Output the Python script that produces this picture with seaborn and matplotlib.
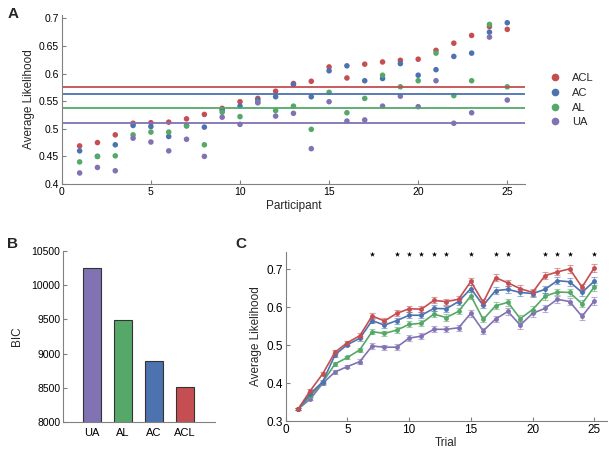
import numpy as np
import pandas as pd
import matplotlib
matplotlib.use("Agg")
import matplotlib.pyplot as plt
import seaborn as sns

# ---- data ----
models = ["ACL", "AC", "AL", "UA"]
participants = list(range(1, 26))

acl_part = [0.469, 0.475, 0.489, 0.510, 0.511, 0.512, 0.518, 0.526, 0.537, 0.549, 0.555, 0.568, 0.582,
            0.586, 0.612, 0.592, 0.617, 0.621, 0.624, 0.626, 0.642, 0.655, 0.669, 0.685, 0.680]
ac_part = [0.460, 0.450, 0.471, 0.506, 0.504, 0.486, 0.506, 0.503, 0.534, 0.541, 0.552, 0.558, 0.580,
           0.558, 0.605, 0.614, 0.587, 0.591, 0.618, 0.597, 0.607, 0.631, 0.637, 0.675, 0.692]
al_part = [0.440, 0.450, 0.451, 0.489, 0.494, 0.494, 0.505, 0.471, 0.530, 0.522, 0.548, 0.533, 0.541,
           0.499, 0.566, 0.529, 0.555, 0.597, 0.576, 0.587, 0.637, 0.560, 0.587, 0.689, 0.576]
ua_part = [0.420, 0.430, 0.424, 0.483, 0.476, 0.460, 0.481, 0.450, 0.521, 0.508, 0.547, 0.523, 0.528,
           0.464, 0.549, 0.514, 0.516, 0.541, 0.559, 0.540, 0.587, 0.510, 0.529, 0.666, 0.552]
overall_mean = [0.576, 0.563, 0.537, 0.511]

bic_models = ["UA", "AL", "AC", "ACL"]
bic = [10255, 9495, 8885, 8505]

trials = list(range(1, 26))
acl_trial = [0.332, 0.381, 0.425, 0.482, 0.507, 0.525, 0.577, 0.564, 0.584, 0.596, 0.595, 0.618, 0.615,
             0.621, 0.668, 0.613, 0.678, 0.664, 0.649, 0.639, 0.683, 0.693, 0.701, 0.653, 0.704]
ac_trial = [0.332, 0.373, 0.404, 0.475, 0.502, 0.518, 0.565, 0.553, 0.565, 0.579, 0.579, 0.597, 0.596,
            0.615, 0.649, 0.605, 0.644, 0.647, 0.639, 0.636, 0.647, 0.670, 0.667, 0.639, 0.669]
al_trial = [0.332, 0.367, 0.403, 0.451, 0.468, 0.488, 0.536, 0.531, 0.540, 0.555, 0.558, 0.582, 0.573,
            0.589, 0.630, 0.568, 0.604, 0.613, 0.570, 0.594, 0.629, 0.640, 0.639, 0.609, 0.654]
ua_trial = [0.332, 0.359, 0.400, 0.430, 0.444, 0.457, 0.498, 0.495, 0.495, 0.519, 0.524, 0.542, 0.542,
            0.546, 0.584, 0.538, 0.569, 0.589, 0.553, 0.584, 0.597, 0.621, 0.615, 0.576, 0.617]
sem = [0.002, 0.004, 0.004, 0.005, 0.005, 0.006, 0.007, 0.007, 0.008, 0.008, 0.008, 0.008, 0.008,
       0.008, 0.009, 0.008, 0.009, 0.009, 0.010, 0.009, 0.009, 0.009, 0.010, 0.009, 0.011]
sig_trials = [7, 9, 10, 11, 12, 13, 15, 17, 18, 21, 22, 23, 25]
star_y = 0.739

# ---- style ----
sns.set_style("ticks")
plt.rcParams["font.family"] = ["Liberation Sans", "DejaVu Sans"]
plt.rcParams["xtick.direction"] = "in"
plt.rcParams["ytick.direction"] = "in"
plt.rcParams["axes.edgecolor"] = "#808080"
plt.rcParams["xtick.color"] = "#808080"
plt.rcParams["ytick.color"] = "#808080"
plt.rcParams["xtick.labelcolor"] = "black"
plt.rcParams["ytick.labelcolor"] = "black"
plt.rcParams["axes.linewidth"] = 0.8

deep = sns.color_palette("deep")
pal = {"ACL": deep[3], "AC": deep[0], "AL": deep[2], "UA": deep[4]}

fig = plt.figure(figsize=(6.12, 4.55), dpi=100)

# ---- panel A ----
axA = fig.add_axes([0.101, 0.5956, 0.757, 0.3714])
dfA = pd.DataFrame({
    "participant": participants * 4,
    "lik": acl_part + ac_part + al_part + ua_part,
    "model": np.repeat(models, len(participants)),
})
# draw in reverse so red ends up on top
sns.scatterplot(data=dfA, x="participant", y="lik", hue="model", hue_order=models[::-1],
                palette=pal, s=16, linewidth=0, ax=axA, legend=False)
for m, v in zip(models, overall_mean):
    axA.axhline(v, color=pal[m], lw=1.3, zorder=1)
axA.set_xlim(0, 26)
axA.set_ylim(0.4, 0.706)
axA.set_xticks([0, 5, 10, 15, 20, 25])
axA.set_yticks([0.4, 0.45, 0.5, 0.55, 0.6, 0.65, 0.7])
axA.set_yticklabels(["0.4", "0.45", "0.5", "0.55", "0.6", "0.65", "0.7"])
axA.tick_params(labelsize=7.5, length=3, pad=2)
axA.set_xlabel("Participant", fontsize=8.5, labelpad=2)
axA.set_ylabel("Average Likelihood", fontsize=8.5, labelpad=3)
sns.despine(ax=axA)
handles = [plt.Line2D([], [], marker="o", ls="", color=pal[m], markersize=4.5) for m in models]
fig.legend(handles, models, loc="upper left", bbox_to_anchor=(0.89, 0.851), frameon=False,
           fontsize=8, handlelength=0.8, handletextpad=1.2, labelspacing=0.42, borderpad=0)
fig.text(0.012, 0.985, "A", fontsize=11, fontweight="bold", va="top")

# ---- panel B ----
axB = fig.add_axes([0.103, 0.0725, 0.248, 0.376])
dfB = pd.DataFrame({"model": bic_models, "bic": bic})
sns.barplot(data=dfB, x="model", y="bic", hue="model", palette=pal, width=0.6, saturation=1,
            edgecolor="#333333", linewidth=0.8, ax=axB, legend=False)
axB.set_xlim(-0.94, 3.97)
axB.set_ylim(8000, 10500)
axB.set_yticks(range(8000, 10501, 500))
axB.tick_params(labelsize=7.5, length=3, pad=2)
axB.tick_params(axis="x", length=0, pad=4, labelsize=8)
axB.set_xlabel("")
axB.set_ylabel("BIC", fontsize=8.5, labelpad=6)
sns.despine(ax=axB)
fig.text(0.012, 0.48, "B", fontsize=11, fontweight="bold", va="top")

# ---- panel C ----
axC = fig.add_axes([0.4668, 0.074, 0.5245, 0.3727])
dfC = pd.DataFrame({
    "trial": trials * 4,
    "lik": acl_trial + ac_trial + al_trial + ua_trial,
    "model": np.repeat(models, len(trials)),
})
series = {"ACL": acl_trial, "AC": ac_trial, "AL": al_trial, "UA": ua_trial}
for m in models[::-1]:
    axC.errorbar(trials, series[m], yerr=sem, fmt="none", ecolor=pal[m], alpha=0.55,
                 elinewidth=0.8, capsize=2.5, capthick=0.8, zorder=2)
sns.lineplot(data=dfC, x="trial", y="lik", hue="model", hue_order=models[::-1], palette=pal,
             marker="o", markersize=3.5, markeredgewidth=0, linewidth=1.2, errorbar=None,
             legend=False, ax=axC, zorder=3)
axC.scatter(sig_trials, [star_y] * len(sig_trials), marker="*", s=16, color="black",
            linewidths=0, zorder=4)
axC.set_xlim(0, 26)
axC.set_ylim(0.3, 0.746)
axC.set_xticks([0, 5, 10, 15, 20, 25])
axC.set_yticks([0.3, 0.4, 0.5, 0.6, 0.7])
axC.tick_params(labelsize=8.5, length=3, pad=2)
axC.set_xlabel("Trial", fontsize=8.5, labelpad=1)
axC.set_ylabel("Average Likelihood", fontsize=8.5, labelpad=3)
sns.despine(ax=axC)
fig.text(0.385, 0.48, "C", fontsize=11, fontweight="bold", va="top")

fig.savefig("out.png", dpi=100)
